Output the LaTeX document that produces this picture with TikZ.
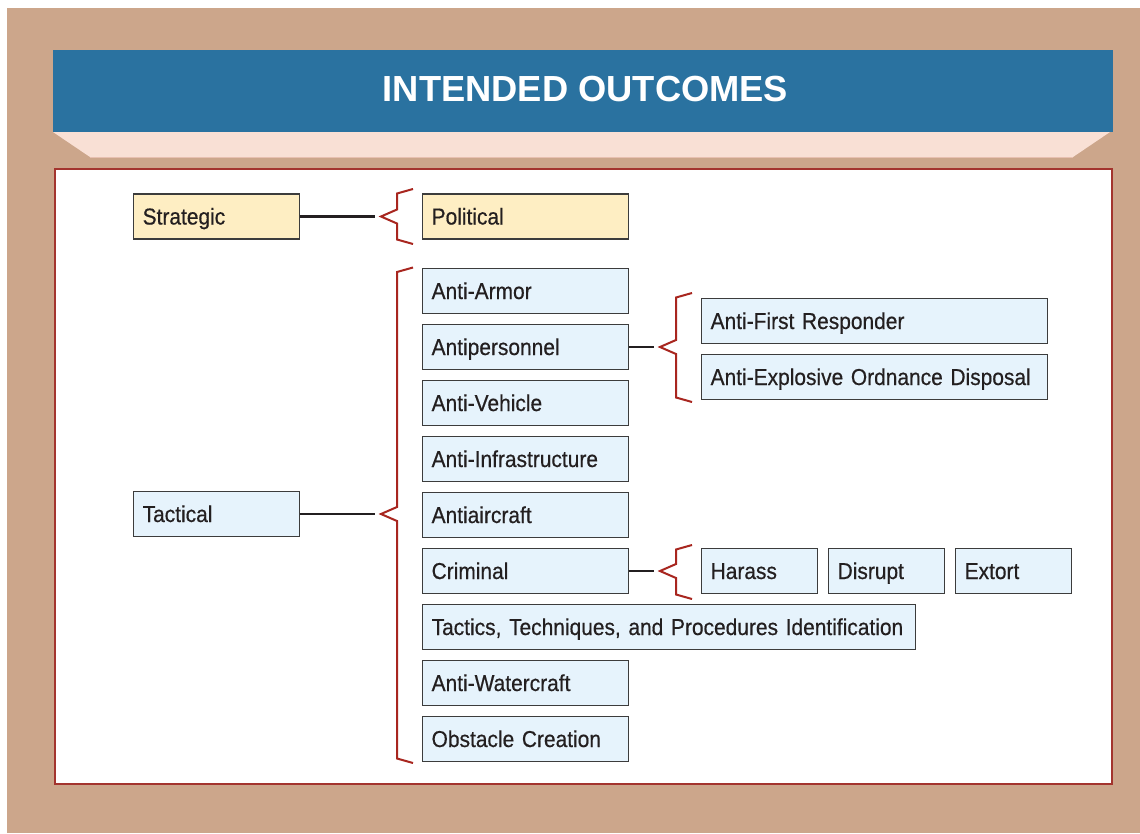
\documentclass[tikz,border=0pt]{standalone}
\usepackage{fontspec}
\setmainfont{Liberation Sans}
\newfontfamily\boxfont[FakeStretch=0.91, FakeBold=0.5, WordSpace=0.75]{Liberation Sans}
\usetikzlibrary{positioning}
\definecolor{frametan}{RGB}{204,166,139}
\definecolor{headblue}{RGB}{42,114,160}
\definecolor{headpink}{RGB}{249,224,213}
\definecolor{pinkedge}{RGB}{232,192,176}
\definecolor{panelred}{RGB}{163,52,46}
\definecolor{bracered}{RGB}{168,38,31}
\definecolor{boxblue}{RGB}{230,243,252}
\definecolor{boxyellow}{RGB}{254,238,195}
\definecolor{boxgray}{RGB}{60,60,60}
\definecolor{inktext}{RGB}{35,31,32}

% angular brace: tip x, top y, tip y, bottom y
\newcommand{\outbrace}[4]{%
  \draw[braceline] (#1+32,#2) -- (#1+16,#2+4.5) -- (#1+16,#3-7) -- (#1,#3)
    -- (#1+16,#3+7) -- (#1+16,#4-4.5) -- (#1+32,#4);}

\begin{document}
\begin{tikzpicture}[x=1pt, y=-1pt,
    box/.style={rectangle, draw=boxgray, line width=1.3pt, fill=boxblue,
      minimum height=45pt, text width=#1, inner xsep=9pt, inner ysep=0pt,
      text height=16pt, text depth=0pt, align=left, anchor=west,
      font=\boxfont\fontsize{23}{27}\selectfont, text=inktext},
    box/.default=188pt,
    yellowbox/.style={box=#1, fill=boxyellow},
    yellowbox/.default=188pt,
    link/.style={draw=inktext, line width=2.3pt},
    braceline/.style={draw=bracered, line width=2pt, line join=miter},
    title/.style={font=\fontsize{36.3}{40}\selectfont\bfseries, text=white}
]

% Frame and header
\useasboundingbox (0,0) rectangle (1140,833);
\fill[white] (0,0) rectangle (1140,833);
\fill[frametan] (7,8) rectangle (1140,833);
\fill[headblue] (53,50) rectangle (1113,132);
\fill[headpink] (53,132) -- (1110,132) -- (1073,157) -- (90,157) -- cycle;
\draw[pinkedge, line width=0.8pt] (90,157) -- (1073,157);
\node[title] (head) at (585.5,89) {INTENDED OUTCOMES};
\draw[panelred, fill=white, line width=1.2pt] (55,169) rectangle (1112,784);

% Left column
\node[yellowbox=148pt] (strat) at (133,216.5) {Strategic};
\node[box=148pt] (tact) at (133,514) {Tactical};

% Outcome column
\node[yellowbox] (polit) at (422,216.5) {Political};
\foreach \name/\txt/\boxw [count=\i from 0] in {
    armor/Anti-Armor/188pt,
    apers/Antipersonnel/188pt,
    vehic/Anti-Vehicle/188pt,
    infra/Anti-Infrastructure/188pt,
    air/Antiaircraft/188pt,
    crim/Criminal/188pt,
    ttp/{Tactics, Techniques, and Procedures Identification}/475pt,
    water/Anti-Watercraft/188pt,
    obst/Obstacle Creation/188pt}
  \node[box=\boxw] (\name) at (422,291+56*\i) {\txt};

% Sub outcomes
\node[box=328pt] (afr) at (701,321) {Anti-First Responder};
\node[box=328pt, below=9.7pt of afr] (eod) {Anti-Explosive Ordnance Disposal};
\node[box=98pt] (harass) at (701,571) {Harass};
\node[box=98pt, right=9.7pt of harass] (disrupt) {Disrupt};
\node[box=98pt, right=9.7pt of disrupt] (extort) {Extort};

% Braces
\outbrace{381}{189}{216.5}{244}
\outbrace{381}{267.5}{514}{763}
\outbrace{660}{293}{347}{402}
\outbrace{660}{545}{571}{599}

% Connections
\coordinate[right=75pt of strat.east] (stip);
\coordinate[right=75pt of tact.east] (ttip);
\coordinate[right=25pt of apers.east] (aptip);
\coordinate[right=25pt of crim.east] (crtip);
\draw[link] (strat.east) -- (stip);
\draw[link] (tact.east) -- (ttip);
\draw[link] (apers.east) -- (aptip);
\draw[link] (crim.east) -- (crtip);

\end{tikzpicture}
\end{document}
